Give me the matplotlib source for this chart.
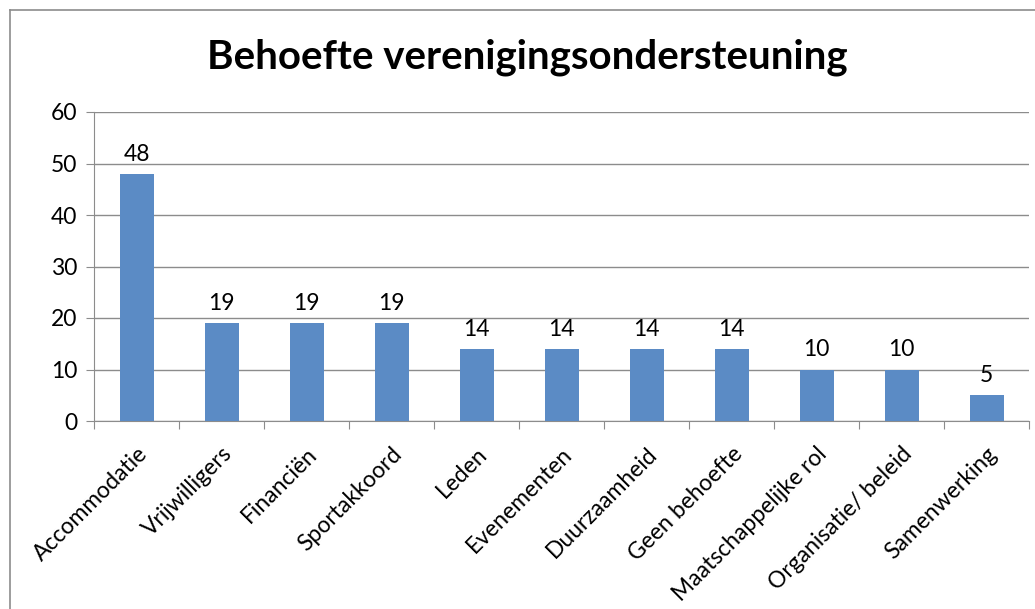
import numpy as np
import matplotlib.pyplot as plt
from matplotlib.lines import Line2D

categories = ['Accommodatie', 'Vrijwilligers', 'Financiën', 'Sportakkoord', 'Leden',
              'Evenementen', 'Duurzaamheid', 'Geen behoefte', 'Maatschappelijke rol',
              'Organisatie/ beleid', 'Samenwerking']
values = [48, 19, 19, 19, 14, 14, 14, 14, 10, 10, 5]
yticks = [0, 10, 20, 30, 40, 50, 60]

plt.rcParams['font.family'] = ['Lato', 'DejaVu Sans']

fig = plt.figure(figsize=(10.35, 6.09), dpi=100)
ax = fig.add_axes([94/1035, 1 - 421/609, (1029 - 94)/1035, (421 - 112)/609])

x = np.arange(len(categories))
bars = ax.bar(x, values, width=0.4, color='#5B8BC5', zorder=3)

for xi, v in zip(x, values):
    ax.text(xi, v + 1.8, str(v), ha='center', va='bottom', fontsize=16.5)

ax.set_xlim(-0.5, len(categories) - 0.5)
ax.set_ylim(0, 60)
ax.set_yticks(yticks)
ax.set_yticklabels([str(t) for t in yticks], fontsize=16.5)
ax.yaxis.grid(True, color='#8c8c8c', linewidth=1, zorder=0)

# category boundaries as tick marks, labels at centers
ax.set_xticks(np.arange(len(categories) + 1) - 0.5)
ax.set_xticklabels([])
ax.set_xticks(x, minor=True)
ax.set_xticklabels(categories, minor=True, rotation=45, ha='right',
                   rotation_mode='anchor', fontsize=16.5)
ax.tick_params(axis='x', which='minor', length=0, pad=16)
ax.tick_params(axis='x', which='major', length=6, color='#8c8c8c')
ax.tick_params(axis='y', length=6, color='#8c8c8c', pad=6)

for side in ['top', 'right']:
    ax.spines[side].set_visible(False)
for side in ['left', 'bottom']:
    ax.spines[side].set_color('#8c8c8c')

fig.text(527/1035, 1 - 57/609, 'Behoefte verenigingsondersteuning',
         ha='center', va='center', fontsize=29, fontweight='bold')

# outer chart border
fig.add_artist(Line2D([10/1035, 10/1035], [0, 1 - 10/609], transform=fig.transFigure,
                      color='#8c8c8c', linewidth=1.2))
fig.add_artist(Line2D([10/1035, 1], [1 - 10/609, 1 - 10/609], transform=fig.transFigure,
                      color='#8c8c8c', linewidth=1.2))

fig.savefig('out.png', dpi=100)
